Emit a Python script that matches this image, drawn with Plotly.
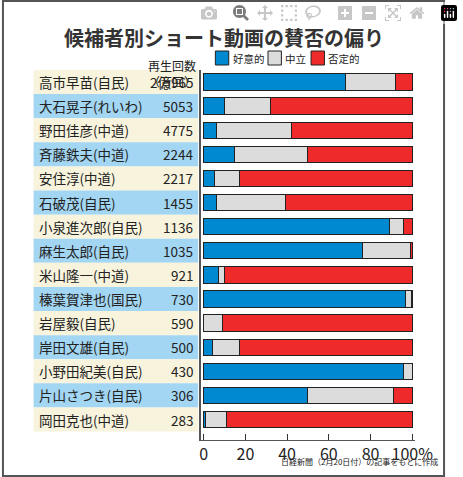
import plotly.graph_objects as go

names = ["高市早苗(自民)", "大石晃子(れいわ)", "野田佳彦(中道)", "斉藤鉄夫(中道)", "安住淳(中道)",
         "石破茂(自民)", "小泉進次郎(自民)", "麻生太郎(自民)", "米山隆一(中道)", "榛葉賀津也(国民)",
         "岩屋毅(自民)", "岸田文雄(自民)", "小野田紀美(自民)", "片山さつき(自民)", "岡田克也(中道)"]
views = ["2億965", "5053", "4775", "2244", "2217", "1455", "1136", "1035", "921", "730",
         "590", "500", "430", "306", "283"]
positive = [68, 10, 6, 15, 5, 6, 89, 76, 7, 97, 0, 4, 96, 50, 1]
neutral = [24, 22, 36, 35, 12, 33, 7, 23, 3, 2.5, 9, 13, 4, 41, 10]
negative = [8, 68, 58, 50, 83, 61, 4, 1, 90, 0.5, 91, 83, 0, 9, 89]

W, H = 463, 477
FONT = "Noto Sans CJK JP"
rows = list(range(len(names)))

def px(x):
    return x / W

def py(y):
    return 1 - y / H

fig = go.Figure()
for vals, name, col in [(positive, "好意的", "#0088d0"), (neutral, "中立", "#dcdcdc"),
                        (negative, "否定的", "#ee2a2a")]:
    fig.add_trace(go.Bar(x=vals, y=rows, orientation="h", name=name, width=0.68,
                         marker=dict(color=col, line=dict(color="#222", width=1))))

shapes = [dict(type="rect", xref="paper", yref="paper", x0=px(1), x1=px(462), y0=py(476), y1=py(1),
               line=dict(color="#555", width=2))]
annotations = []
for i, (n, v) in enumerate(zip(names, views)):
    shapes.append(dict(type="rect", xref="paper", yref="y", x0=px(33), x1=px(205), y0=i - 0.5, y1=i + 0.5,
                       fillcolor="#f7f3dc" if i % 2 == 0 else "#a3d6f2", line=dict(width=0), layer="below"))
    annotations.append(dict(xref="paper", yref="y", x=px(37), y=i, text=n, showarrow=False,
                            xanchor="left", font=dict(size=13.5, color="#222", family=FONT)))
    annotations.append(dict(xref="paper", yref="y", x=px(202), y=i, text=v, showarrow=False,
                            xanchor="right", font=dict(size=13.5, color="#222", family=FONT)))

# legend
for x0, label, col in [(223, "好意的", "#0088d0"), (278, "中立", "#dcdcdc"), (323, "否定的", "#ee2a2a")]:
    shapes.append(dict(type="rect", xref="paper", yref="paper", x0=px(x0), x1=px(x0 + 14),
                       y0=py(65), y1=py(51), fillcolor=col, line=dict(color="#222", width=1)))
    annotations.append(dict(xref="paper", yref="paper", x=px(x0 + 16), y=py(58), text=label, showarrow=False,
                            xanchor="left", yanchor="middle", font=dict(size=10.5, color="#222", family=FONT)))

annotations += [
    dict(xref="paper", yref="paper", x=0.5, y=py(21), text="<b>候補者別ショート動画の賛否の偏り</b>",
         showarrow=False, font=dict(size=20, color="#333", family=FONT)),
    dict(xref="paper", yref="paper", x=px(178), y=py(55), text="再生回数<br>（万回）", showarrow=False,
         font=dict(size=12, color="#222", family=FONT)),
    dict(xref="paper", yref="paper", x=px(458), y=py(469), text="日経新聞（2月20日付）の記事をもとに作成",
         showarrow=False, xanchor="right", font=dict(size=8, color="#222", family=FONT)),
]

fig.update_layout(
    width=W, height=H, margin=dict(l=0, r=0, t=0, b=0), barmode="stack",
    plot_bgcolor="white", paper_bgcolor="white", showlegend=False,
    shapes=shapes, annotations=annotations,
    xaxis=dict(domain=[px(208), px(432)], range=[-1.3, 101.5], tickvals=[0, 20, 40, 60, 80, 100],
               ticktext=["0", "20", "40", "60", "80", "100%"], ticks="inside", ticklen=6,
               tickcolor="#333", showgrid=False, zeroline=False, showline=True, linecolor="#555",
               tickfont=dict(size=16, color="#222", family=FONT)),
    yaxis=dict(domain=[py(440), py(70)], range=[14.85, -0.5], showticklabels=False, showgrid=False,
               zeroline=False, showline=True, linecolor="#555", linewidth=1.5),
)
fig.write_html("out.html", post_script="document.body.style.margin='0';")
